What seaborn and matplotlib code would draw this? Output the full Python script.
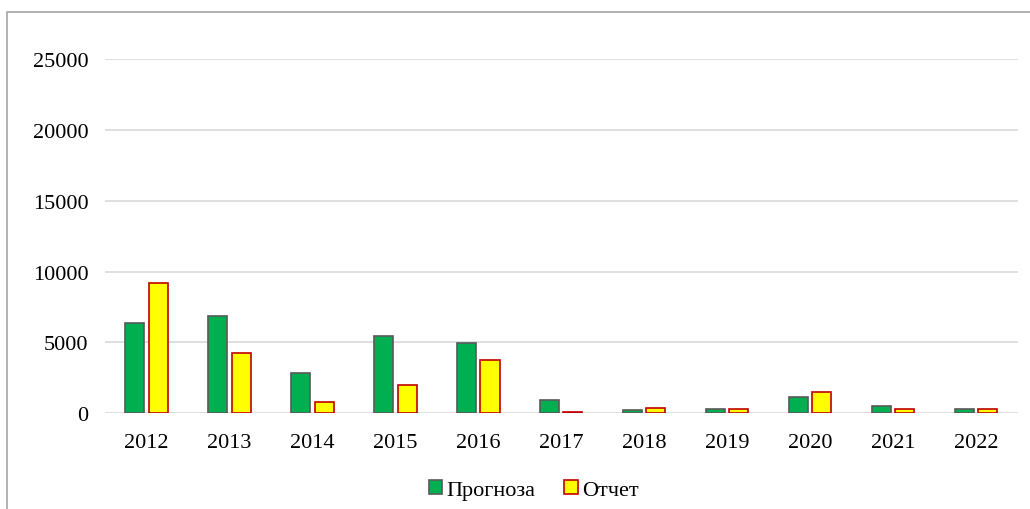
import pandas as pd
import seaborn as sns
import matplotlib.pyplot as plt
from matplotlib.patches import Patch, Rectangle

# data
years = ['2012', '2013', '2014', '2015', '2016', '2017', '2018', '2019', '2020', '2021', '2022']
prognoz = [6400, 6850, 2800, 5450, 4950, 900, 240, 300, 1150, 520, 320]
otchet = [9200, 4250, 800, 2000, 3750, 110, 330, 320, 1470, 260, 320]

labels = ['Прогноза', 'Отчет']
fills = ['#00B050', '#FFFF00']
edges = ['#595959', '#C00000']

data = pd.DataFrame({
    'year': years * 2,
    'value': prognoz + otchet,
    'kind': [labels[0]] * len(years) + [labels[1]] * len(years),
})

sns.set_style('white')
plt.rcParams['font.family'] = ['Liberation Serif', 'DejaVu Serif']

fig = plt.figure(figsize=(10.3, 5.1), dpi=100)
ax = fig.add_axes([0.102, 0.188, 0.886, 0.694])

sns.barplot(data=data, x='year', y='value', hue='kind', palette=fills,
            width=0.56, gap=0.18, saturation=1, legend=False, ax=ax)

# edge colours per series
n = len(years)
for i, patch in enumerate(ax.patches[:2 * n]):
    patch.set_edgecolor(edges[i // n])
    patch.set_linewidth(1.2)

ax.set_ylim(0, 25000)
ax.set_yticks(range(0, 25001, 5000))
ax.set_xlim(-0.5, n - 0.5)
ax.grid(axis='y', color='#D9D9D9', linewidth=1.2)
ax.set_axisbelow(True)
sns.despine(ax=ax, left=True, bottom=True, top=True, right=True)
ax.tick_params(axis='both', length=0, labelsize=16, labelcolor='black')
ax.tick_params(axis='y', pad=12)
ax.tick_params(axis='x', pad=14)
ax.set_xlabel('')
ax.set_ylabel('')

handles = [Patch(facecolor=fills[k], edgecolor=edges[k], linewidth=1.2, label=labels[k])
           for k in range(2)]
fig.legend(handles=handles, loc='center', bbox_to_anchor=(0.518, 0.038), ncol=2,
           frameon=False, fontsize=16, handlelength=0.6, handleheight=0.6,
           handletextpad=0.2, columnspacing=1.3, labelcolor='black')

# chart area border
fig.add_artist(Rectangle((7 / 1030, -0.1), 1.2, 0.1 + 1 - 13 / 510,
                         transform=fig.transFigure, facecolor='none',
                         edgecolor='#A6A6A6', linewidth=1.2))

fig.savefig('out.png', dpi=100)
